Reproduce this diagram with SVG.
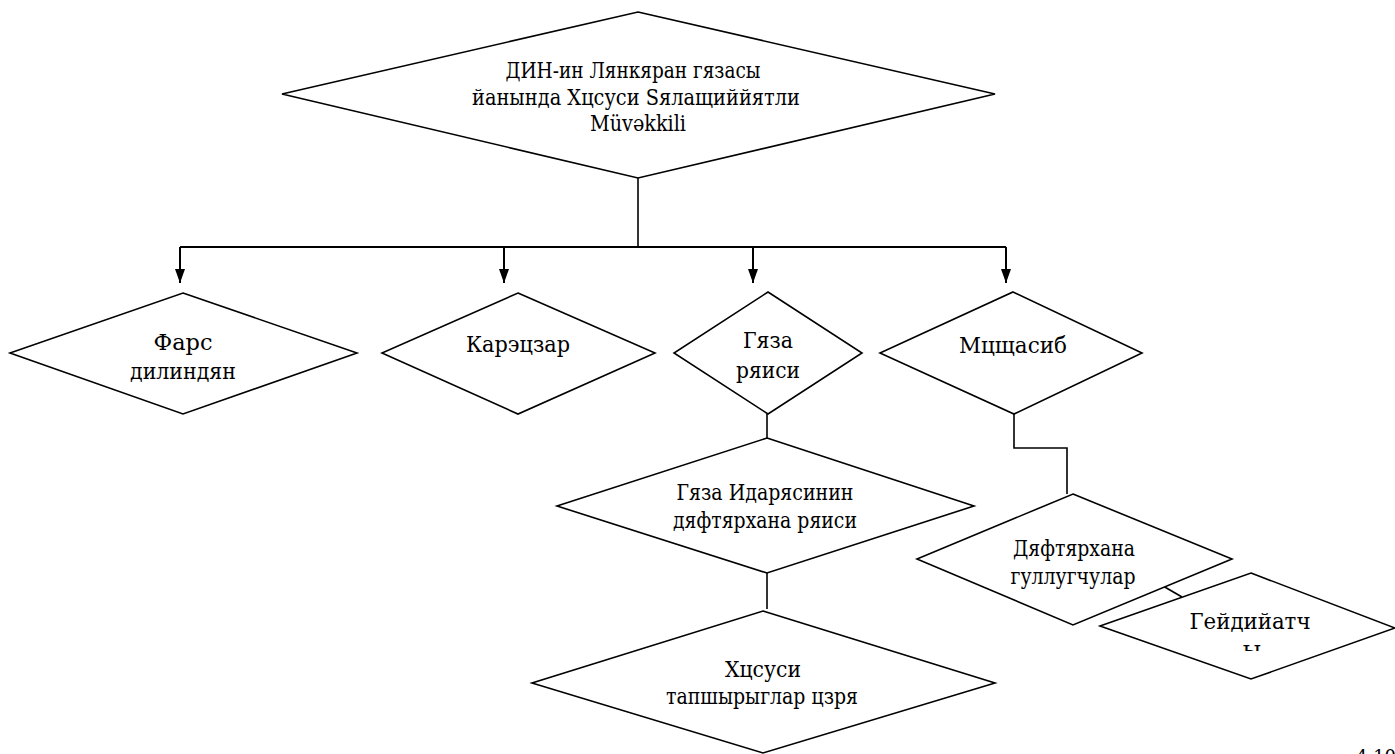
<svg xmlns="http://www.w3.org/2000/svg" width="1395" height="754" viewBox="0 0 1395 754">
<style>
.d{fill:#fff;stroke:#000;stroke-width:1.6;stroke-linejoin:miter}
.c{fill:none;stroke:#000;stroke-width:1.6}
.a{fill:none;stroke:#000;stroke-width:2}
</style>
<defs>
<marker id="arr" viewBox="0 0 14 10" refX="14" refY="5" markerWidth="14" markerHeight="10" markerUnits="userSpaceOnUse" orient="auto">
<path d="M0,0 L14,5 L0,10 Z" fill="#000"/>
</marker>
<clipPath id="clipY"><rect x="1100" y="560" width="295" height="91"/></clipPath>
</defs>
<rect width="1395" height="754" fill="#fff"/>
<g id="connectors">
<path class="c" d="M638,178 V247"/>
<path class="a" d="M180,247 H1006"/>
<path class="a" d="M180,247 V283" marker-end="url(#arr)"/>
<path class="a" d="M504,247 V283" marker-end="url(#arr)"/>
<path class="a" d="M753,247 V283" marker-end="url(#arr)"/>
<path class="a" d="M1006,247 V283" marker-end="url(#arr)"/>
<path class="c" d="M767,414 V438"/>
<path class="c" d="M767,573 V609"/>
<path class="c" d="M1014,414 V448 H1067 V494"/>
<path class="c" d="M1163,586 L1182,597"/>
</g>
<g style="font-family:'DejaVu Serif','Liberation Serif',serif;font-size:23px;text-anchor:middle;fill:#000">
<g id="n-top">
<polygon class="d" points="638,12 995,94 638,178 282,94"/>
<text x="633" y="78" textLength="255" lengthAdjust="spacingAndGlyphs">ДИН-ин Лянкяран гязасы</text>
<text x="636" y="105" textLength="328" lengthAdjust="spacingAndGlyphs">йанында Хцсуси Sялащиййятли</text>
<text x="638" y="131" textLength="96" lengthAdjust="spacingAndGlyphs">Müvəkkili</text>
</g>
<g id="n-fars">
<polygon class="d" points="183,293 357,353 183,414 10,353"/>
<text x="183" y="350" textLength="59" lengthAdjust="spacingAndGlyphs">Фарс</text>
<text x="183" y="379" textLength="106" lengthAdjust="spacingAndGlyphs">дилиндян</text>
</g>
<g id="n-karetszar">
<polygon class="d" points="518,293 655,353 518,414 382,353"/>
<text x="518" y="352" textLength="104" lengthAdjust="spacingAndGlyphs">Карэцзар</text>
</g>
<g id="n-gyaza">
<polygon class="d" points="768,292 862,353 768,414 674,353"/>
<text x="768" y="348" textLength="50" lengthAdjust="spacingAndGlyphs">Гяза</text>
<text x="768" y="378" textLength="64" lengthAdjust="spacingAndGlyphs">ряиси</text>
</g>
<g id="n-mushasib">
<polygon class="d" points="1013,292 1142,353 1014,414 880,353"/>
<text x="1013" y="353" textLength="108" lengthAdjust="spacingAndGlyphs">Мцщасиб</text>
</g>
<g id="n-daftarkhana-rais">
<polygon class="d" points="767,438 974,506 767,573 557,506"/>
<text x="765" y="500" textLength="177" lengthAdjust="spacingAndGlyphs">Гяза Идарясинин</text>
<text x="765" y="528" textLength="184" lengthAdjust="spacingAndGlyphs">дяфтярхана ряиси</text>
</g>
<g id="n-xususi">
<polygon class="d" points="763,611 995,683 763,753 532,683"/>
<text x="763" y="677" textLength="76" lengthAdjust="spacingAndGlyphs">Хцсуси</text>
<text x="762" y="704" textLength="192" lengthAdjust="spacingAndGlyphs">тапшырыглар цзря</text>
</g>
<g id="n-daftarkhana">
<polygon class="d" points="1073,494 1232,559 1073,625 917,559"/>
<text x="1074" y="556" textLength="122" lengthAdjust="spacingAndGlyphs">Дяфтярхана</text>
<text x="1073" y="584" textLength="125" lengthAdjust="spacingAndGlyphs">гуллугчулар</text>
</g>
<g id="n-geydiyyat">
<polygon class="d" points="1251,573 1395,628 1251,679 1100,626"/>
<text x="1250" y="629" textLength="121" lengthAdjust="spacingAndGlyphs">Гейдийатч</text>
<text x="1252" y="657" clip-path="url(#clipY)">ы</text>
</g>
<text x="1376" y="763" style="font-size:18px">4 10</text>
</g>
</svg>
